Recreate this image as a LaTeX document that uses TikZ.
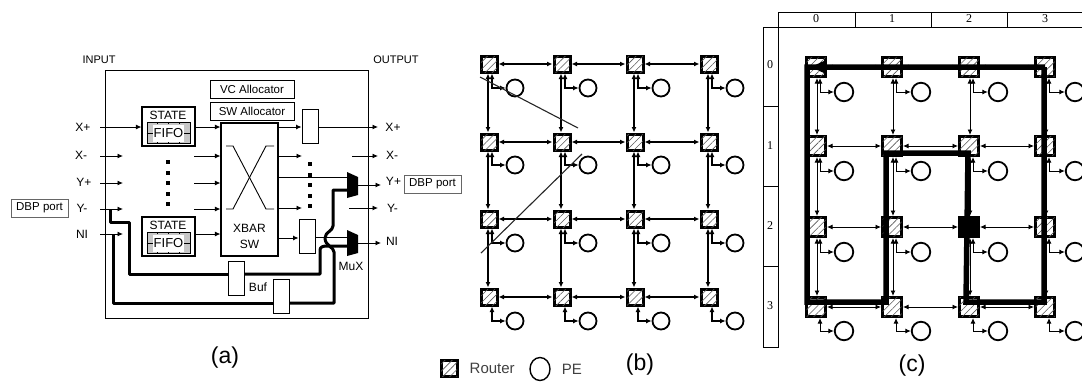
\documentclass[tikz,border=0pt]{standalone}
\usepackage{fontspec}
\setmainfont{Liberation Sans}
\newfontfamily\tabfont{Liberation Serif}
\usetikzlibrary{arrows.meta,patterns.meta,positioning,shapes.geometric}
\tikzset{
	>={Latex[length=5.5pt,width=5pt]},
	thin line/.style={line width=0.9pt},
	thick line/.style={line width=3pt,line join=round},
	route line/.style={line width=5.5pt,line join=miter},
	plain box/.style={draw,line width=0.9pt,inner sep=0pt,fill=white},
	port box/.style={draw=black!60,line width=0.6pt,minimum width=57pt,minimum height=18pt,inner sep=0pt,font=\fontsize{11.5}{12}\selectfont},
	small label/.style={font=\fontsize{12}{12}\selectfont,inner sep=0pt},
	big label/.style={font=\fontsize{23}{24}\selectfont,inner sep=0pt},
	alloc box/.style={plain box,minimum width=84pt,minimum height=18pt,font=\fontsize{11.5}{12}\selectfont},
	buf box/.style={plain box,minimum width=16pt,minimum height=34pt},
	state box/.style={plain box,line width=1.1pt,minimum width=53pt,minimum height=39pt},
	fifo box/.style={draw,line width=0.9pt,fill=black!22,minimum width=43pt,minimum height=21pt,inner sep=0pt},
	fifo text/.style={fill=white,inner sep=1pt,minimum height=17pt,font=\fontsize{13}{13}\selectfont},
	router hatch/.style={postaction={pattern={Lines[angle=45,distance=5pt,line width=0.6pt]},pattern color=black!65}},
	router b/.style={draw,line width=3pt,minimum size=16pt,inner sep=0pt,fill=white,router hatch},
	router c/.style={draw,line width=3pt,minimum size=19pt,inner sep=0pt,fill=white,router hatch},
	pe node/.style={draw,circle,line width=1.8pt,minimum size=17pt,inner sep=0pt},
	dot mark/.style={fill=black,minimum size=4pt,inner sep=0pt},
}
\begin{document}
\begin{tikzpicture}[x=1pt,y=-1pt]
	\useasboundingbox (0,0) rectangle (1082,381);
	% router (a)
	\node[draw,line width=1pt,minimum width=263pt,minimum height=248pt,inner sep=0pt] (outer) at (236.5,194) {};
	\node[small label,font=\fontsize{11}{12}\selectfont] (input) at (99,60) {INPUT};
	\node[small label,font=\fontsize{11}{12}\selectfont] (output) at (396,60) {OUTPUT};
	\node[port box] (dbpl) at (39.5,208) {DBP port};
	\node[port box] (dbpr) at (432.5,184) {DBP port};
	\foreach \n/\t/\px/\py in {xpi/X+/83/127,xmi/X-/81/155,ypi/Y+/84/182,ymi/Y-/82/208,nii/NI/82/234,xpo/X+/393/127,xmo/X-/392/155,ypo/Y+/393.5/181,ymo/Y-/392.5/208,nio/NI/392/241}
		\node[small label] (\n) at (\px,\py) {\t};
	\node[state box] (st1) at (168.5,126.5) {};
	\node[state box] (st2) at (168.5,236.5) {};
	\foreach \k/\py in {1/133,2/243}{
		\node[fifo box] (ff\k) at (168.5,\py) {};
		\draw[line width=0.7pt] (ff\k.west) -- (ff\k.east);
		\node[fifo text] (fft\k) at (168.5,\py) {FIFO};
		\foreach \dx in {-11,0,11}
			\draw[line width=0.7pt] ([xshift=\dx pt]ff\k.north) -- ++(0,2) ([xshift=\dx pt]ff\k.south) -- ++(0,-2);
	}
	\node[small label] (stt1) at (168,115.5) {STATE};
	\node[small label] (stt2) at (168,225.5) {STATE};
	\node[alloc box] (vc) at (252,89) {VC Allocator};
	\node[alloc box] (sw) at (252,111) {SW Allocator};
	\node[plain box,line width=1.1pt,minimum width=57pt,minimum height=133pt] (xbar) at (249.5,189.5) {};
	\node[small label,align=center,font=\fontsize{12}{16}\selectfont] (xbart) at (249.5,236) {XBAR\\SW};
	\draw[thin line] (226,146) -- (233,146) -- (266,209) -- (274,209);
	\draw[thin line] (226,209) -- (233,209) -- (266,146) -- (274,146);
	\node[buf box] (bo1) at (310,126) {};
	\node[buf box] (bo2) at (307,236.5) {};
	\node[buf box] (bu1) at (236,278.5) {};
	\node[buf box] (bu2) at (281,296.5) {};
	\node[small label] (buf) at (258,287) {Buf};
	\node[small label] (muxl) at (351,266) {MuX};
	\foreach \k/\py in {0/162,1/172.5,2/183,3/193.5,4/204}
		\node[dot mark] (dl\k) at (168,\py) {};
	\foreach \k/\py in {0/164,1/174.5,2/185,3/195.5,4/206}
		\node[dot mark] (dr\k) at (310,\py) {};
	\coordinate (cxm) at (123,156);
	\coordinate (cyp) at (123,183);
	\coordinate (cym) at (123,209);
	\coordinate (cni) at (123,234);
	\draw[thin line,->] (100,127) -- (st1.west |- 0,127);
	\draw[thin line,->] (100,156) -- (cxm);
	\draw[thin line,->] (100,183) -- (cyp);
	\draw[thin line,->] (100,209) -- (cym);
	\draw[thin line,->] (100,234) -- (cni);
	\draw[thin line,->] (st1.east |- 0,127) -- (xbar.west |- 0,127);
	\draw[thin line,->] (194,156) -- (xbar.west |- 0,156);
	\draw[thin line,->] (194,183) -- (xbar.west |- 0,183);
	\draw[thin line,->] (194,209) -- (xbar.west |- 0,209);
	\draw[thin line,->] (st2.east |- 0,234) -- (xbar.west |- 0,234);
	\draw[thin line,->] (xbar.east |- 0,127) -- (bo1.west |- 0,127);
	\draw[thin line,->] (bo1.east |- 0,127) -- (378,127);
	\draw[thin line,->] (xbar.east |- 0,156) -- (302,156);
	\draw[thin line,->] (352,156) -- (378,156);
	\draw[thin line,->] (xbar.east |- 0,208) -- (302,208);
	\draw[thin line,->] (349,208) -- (378,208);
	\draw[thin line,->] (xbar.east |- 0,238) -- (bo2.west |- 0,238);
	% muxes
	\fill (347,172) -- (358,177) -- (358,195) -- (347,198) -- cycle;
	\fill (347,230) -- (358,235) -- (358,253) -- (347,256) -- cycle;
	\coordinate (muxa) at (358,185);
	\coordinate (muxb) at (358,243);
	\draw[thin line] (xbar.east |- 0,177) -- (347,177);
	\draw[thin line] (bo2.east |- 0,237) -- (347,237);
	\draw[thin line,->] (muxa) -- (381,185);
	\draw[thin line,->] (muxb) -- (381,243);
	% bypass lines
	\draw[thick line] (110,209) -- (110,222) -- (129,222) -- (129,274) -- (bu1.west |- 0,274);
	\draw[thick line] (113,234) -- (113,303) -- (bu2.west |- 0,303);
	\draw[thick line] (bu1.east |- 0,274) -- (320,274) -- (320,250) .. controls (320,247) and (323,246) .. (327,246) -- (347,246);
	\draw[thick line] (bu2.east |- 0,303) -- (334,303) -- (334,252) .. controls (334,247) and (325,246) .. (325,238) .. controls (325,232) and (333,231) .. (333,226) -- (333,190) -- (347,190);
	\node[big label] (cap a) at (225,358) {(a)};
	% mesh (b)
	\foreach \i/\px in {0/489,1/562,2/635,3/709}
		\foreach \j/\py in {0/64,1/142,2/219,3/297}
			\node[router b] (b-\i-\j) at (\px,\py) {};
	\foreach \i/\px in {0/515,1/588,2/661,3/735}
		\foreach \j/\py in {0/88,1/165,2/243,3/321}
			\node[pe node] (pb-\i-\j) at (\px,\py) {};
	\foreach \i in {0,...,3}{
		\foreach \j in {0,...,3}
			\draw[line width=1.3pt,<->] ([xshift=3pt]b-\i-\j.south) |- (pb-\i-\j.west);
		\foreach \j/\k in {0/1,1/2,2/3}{
			\draw[line width=1.2pt,<->] ([xshift=-1pt]b-\i-\j.south) -- ([xshift=-1pt]b-\i-\k.north);
			\draw[line width=1.2pt,<->] (b-\j-\i.east) -- (b-\k-\i.west);
		}
	}
	\coordinate (cut1a) at (480,77);
	\coordinate (cut1b) at (578,128);
	\coordinate (cut2a) at (481,253);
	\coordinate (cut2b) at (582,154);
	\draw[line width=1.1pt,black!85] (cut1a) -- (cut1b);
	\draw[line width=1.1pt,black!85] (cut2a) -- (cut2b);
	\node[router b] (legr) at (449,368) {};
	\node[font=\fontsize{15}{16}\selectfont,inner sep=0pt,black!75,right=11pt of legr] (legrt) {Router};
	\node[draw,ellipse,line width=1.4pt,minimum width=20pt,minimum height=23pt,inner sep=0pt] (legp) at (540,369) {};
	\node[font=\fontsize{15}{16}\selectfont,inner sep=0pt,black!75,right=11pt of legp] (legpt) {PE};
	\node[big label] (cap b) at (640,365) {(b)};
	% mesh (c)
	\draw[line width=0.7pt] (778,27) -- (778,12) -- (1082,12);
	\draw[line width=0.7pt] (763,27) -- (1082,27);
	\draw[line width=0.7pt] (855,12) -- (855,27) (931,12) -- (931,27) (1007,12) -- (1007,27);
	\draw[line width=0.7pt] (763,27) rectangle (778,347);
	\draw[line width=0.7pt] (763,106) -- (778,106) (763,186) -- (778,186) (763,266) -- (778,266);
	\foreach \t/\px in {0/816,1/892,2/969,3/1045}
		\node[font=\tabfont\fontsize{12}{12}\selectfont,inner sep=0pt] (ct\t) at (\px,19) {\t};
	\foreach \t/\py in {0/65,1/146,2/226,3/306}
		\node[font=\tabfont\fontsize{12}{12}\selectfont,inner sep=0pt] (cl\t) at (770,\py) {\t};
	\foreach \i/\px in {0/816,1/892,2/969,3/1045}
		\foreach \j/\py in {0/67,1/146,2/227,3/307}
			\node[router c] (c-\i-\j) at (\px,\py) {};
	\foreach \i/\px in {0/844,1/921,2/998,3/1075}
		\foreach \j/\py in {0/92,1/171,2/252,3/331}
			\node[pe node,minimum size=18.5pt] (pc-\i-\j) at (\px,\py) {};
	\foreach \i in {0,...,3}{
		\foreach \j in {0,...,3}
			\draw[line width=1pt,<->] ([xshift=4pt]c-\i-\j.south) |- (pc-\i-\j.west);
		\foreach \j/\k in {0/1,1/2,2/3}{
			\draw[thin line,<->] ([xshift=1pt]c-\i-\j.south) -- ([xshift=1pt]c-\i-\k.north);
			\draw[thin line,<->] (c-\j-\i.east) -- (c-\k-\i.west);
		}
	}
	\node[draw,fill=black,line width=3pt,minimum size=19pt,inner sep=0pt] (hot) at (c-2-2) {};
	\draw[route line] (c-3-0.center |- 0,67) -- (807,67) -- (807,302) -- (886,302) -- (886,153) -- (968,153) -- (966,302) -- (1044,302) -- (1044,67) -- cycle;
	\fill (811,67) -- (826,60) -- (826,74) -- cycle;
	\node[big label] (cap c) at (912,366) {(c)};
\end{tikzpicture}
\end{document}
